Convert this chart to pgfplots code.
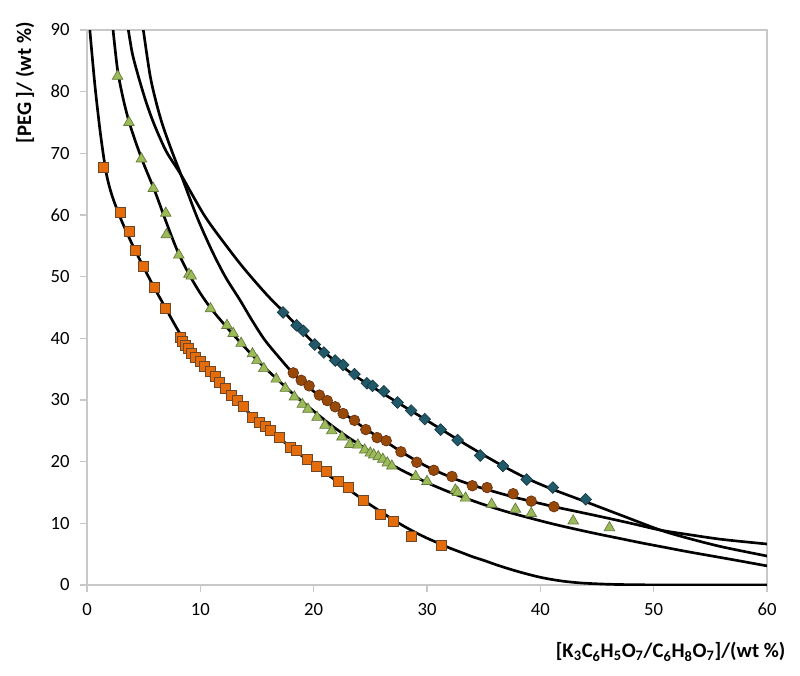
\documentclass[border=0pt]{standalone}
\usepackage{fontspec}
\setmainfont{Carlito}
\usepackage{pgfplots}
\pgfplotsset{compat=1.18}

\definecolor{axisgrey}{RGB}{200,200,200}
\definecolor{sqfill}{RGB}{228,108,10}
\definecolor{sqdraw}{RGB}{110,70,40}
\definecolor{trfill}{RGB}{155,187,89}
\definecolor{trdraw}{RGB}{100,120,60}
\definecolor{cifill}{RGB}{152,72,7}
\definecolor{cidraw}{RGB}{100,50,20}
\definecolor{dmfill}{RGB}{33,89,104}
\definecolor{dmdraw}{RGB}{20,55,70}

\begin{document}
\begin{tikzpicture}
\begin{axis}[
    at={(0,0)}, anchor=south west,
    width=510pt, height=416.25pt, scale only axis,
    xmin=0, xmax=60, ymin=0, ymax=90,
    xtick={0,10,...,60}, ytick={0,10,...,90},
    axis line style={draw=axisgrey, line width=0.8pt},
    tick style={draw=axisgrey, line width=0.8pt},
    tick align=outside, major tick length=5pt,
    xtick pos=bottom, ytick pos=left,
    ticklabel style={font=\fontsize{14}{16}\selectfont},
    yticklabel style={xshift=-4.5pt},
    xticklabel style={yshift=-5pt},
    /pgf/number format/assume math mode=true,
    xlabel={\bfseries [K\textsubscript{3}C\textsubscript{6}H\textsubscript{5}O\textsubscript{7}/C\textsubscript{6}H\textsubscript{8}O\textsubscript{7}]/(wt \%)},
    ylabel={\bfseries [PEG ]/ (wt \%)},
    x label style={at={(axis description cs:1.034,-0.1207)}, anchor=east, font=\fontsize{15.5}{18}\selectfont},
    y label style={at={(axis description cs:-0.0912,1.022)}, anchor=east, rotate=0, font=\fontsize{15.5}{18}\selectfont},
    clip=true,
]
% fitted curves
\addplot[black, line width=2pt, smooth, tension=0.5] coordinates {
(0.25,90)(0.7,81)(1.2,73)(1.7,66.8)(2.2,63.2)(3,59.3)(4,55.2)(5,51.5)(6,48)(7,44.7)(8,41.4)(9,38.5)(10,35.9)(11,33.7)(12,31.7)(13,30.0)(14,28.4)(15,26.8)(16,25.3)(17,23.8)(18,22.3)(19,20.9)(20,19.5)(21,18.2)(22,16.9)(23,15.6)(24,14.3)(25,13.0)(26,11.8)(27,10.6)(28,9.5)(29,8.5)(30,7.6)(31,6.8)(32,6.0)(33,5.3)(34,4.6)(35,4.0)(36,3.35)(37,2.75)(38,2.2)(39,1.7)(40,1.25)(41,0.9)(42,0.62)(43,0.42)(44,0.28)(46,0.12)(48,0.05)(50,0.02)(55,0)(60,0)
};
\addplot[black, line width=2pt, smooth, tension=0.5] coordinates {
(2.3,90)(2.7,83.5)(3.2,78.8)(3.7,75.2)(4.3,71.8)(5,68.3)(6,63.8)(7,58.8)(8,54.1)(9,50.4)(10,47.3)(11,44.7)(12,42.5)(13,40.4)(14,38.4)(15,36.5)(16,34.7)(17,33.0)(18,31.3)(19,29.7)(20,28.2)(21,26.7)(22,25.3)(23,24.0)(24,22.8)(25,21.6)(26,20.5)(27,19.4)(28,18.4)(29,17.5)(30,16.6)(31,15.8)(32,15.05)(33,14.35)(35,13.05)(37,11.9)(39,10.9)(41,9.95)(43,9.1)(45,8.3)(47,7.55)(49,6.8)(51,6.1)(53,5.4)(55,4.75)(57,4.1)(60,3.1)
};
\addplot[black, line width=2pt, smooth, tension=0.5] coordinates {
(4.97,90)(5.56,82.7)(6.1,78.3)(6.67,74.6)(7.5,70.3)(8.3,66.5)(9.7,59.7)(11.0,54.3)(12.2,50.0)(13.5,46.2)(14.6,42.8)(15.7,39.7)(17,36.8)(18.2,34.3)(19.6,32.0)(21.2,29.7)(22.6,27.9)(24.6,25.3)(26.4,23.2)(28,21.3)(30,19.2)(32.2,17.4)(34,16.2)(36,15.1)(38,14.1)(41.2,12.7)(43,12.0)(45.3,11.1)(48,10.0)(50.6,8.9)(53,8.2)(56,7.4)(60,6.65)
};
\addplot[black, line width=2pt, smooth, tension=0.5] coordinates {
(3.65,90)(4.0,86.2)(4.5,82.7)(5.2,78.4)(5.95,74.6)(7,70.3)(8.3,66.5)(10.4,59.8)(12.5,54.5)(14,51.0)(15.9,47.0)(17.3,44.4)(18.5,42.1)(20.1,39.1)(21.9,36.3)(23.6,34.0)(25.2,32.1)(27.4,29.6)(29.8,26.9)(32.7,23.6)(34.7,21.4)(36.7,19.3)(38.8,17.3)(41.1,15.5)(44.0,13.5)(47,11.4)(50.6,8.9)(53,7.6)(56,6.2)(60,4.7)
};
% experimental points
\addplot[only marks, mark=square*, mark size=3.75pt, mark options={fill=sqfill, draw=sqdraw, line width=0.5pt}] coordinates {
(1.4,67.8)(2.9,60.5)(3.7,57.4)(4.3,54.2)(5.0,51.6)(5.9,48.3)(6.9,44.8)(8.2,40.2)(8.4,39.5)(8.65,38.9)(8.9,38.3)(9.2,37.6)(9.6,36.9)(10.0,36.2)(10.35,35.5)(10.85,34.6)(11.3,33.8)(11.7,32.8)(12.2,31.9)(12.7,30.8)(13.3,29.9)(13.8,28.9)(14.6,27.2)(15.2,26.4)(15.7,25.8)(16.2,25.1)(17.0,23.9)(17.9,22.4)(18.5,21.8)(19.4,20.4)(20.2,19.3)(21.1,18.5)(22.2,16.8)(23.1,15.8)(24.4,13.8)(25.9,11.4)(27.0,10.4)(28.6,7.9)(31.3,6.5)
};
\addplot[only marks, mark=triangle*, mark size=4.6pt, mark options={fill=trfill, draw=trdraw, line width=0.5pt}] coordinates {
(2.7,82.5)(3.7,75.0)(4.8,69.1)(5.85,64.3)(6.95,60.3)(7.0,56.8)(8.1,53.5)(9.0,50.4)(9.2,50.1)(10.9,44.8)(12.35,42.1)(12.9,40.8)(13.6,39.2)(14.6,37.5)(15.0,36.4)(15.6,35.1)(16.7,33.4)(17.5,31.9)(18.3,30.5)(19.0,29.3)(19.5,28.5)(20.3,27.2)(21.0,25.9)(21.6,25.0)(22.5,24.0)(23.2,22.8)(23.9,22.7)(24.5,21.9)(25.0,21.4)(25.3,21.1)(25.7,20.8)(26.1,20.4)(26.5,19.8)(26.9,19.3)(29.0,17.6)(30.0,16.8)(32.5,15.4)(32.7,15.0)(33.4,14.1)(35.7,13.1)(37.8,12.3)(39.2,11.6)(42.9,10.4)(46.1,9.3)
};
\addplot[only marks, mark=*, mark size=4pt, mark options={fill=cifill, draw=cidraw, line width=0.5pt}] coordinates {
(18.2,34.4)(18.9,33.2)(19.6,32.3)(20.5,30.8)(21.2,29.9)(21.9,28.9)(22.6,27.8)(23.6,26.7)(24.6,25.2)(25.6,23.9)(26.4,23.4)(27.7,21.6)(29.1,19.9)(30.6,18.6)(32.2,17.6)(34.0,16.1)(35.3,15.8)(37.6,14.8)(39.2,13.6)(41.2,12.7)
};
\addplot[only marks, mark=square*, mark size=3.1pt, mark options={rotate=45, fill=dmfill, draw=dmdraw, line width=0.5pt}] coordinates {
(17.3,44.2)(18.5,42.1)(19.1,41.2)(20.1,39.0)(20.9,37.7)(21.9,36.4)(22.6,35.7)(23.6,34.2)(24.7,32.7)(25.2,32.3)(26.2,31.4)(27.4,29.6)(28.6,28.3)(29.8,26.9)(31.2,25.2)(32.7,23.5)(34.7,21.0)(36.7,19.3)(38.8,17.1)(41.1,15.8)(44.0,13.9)
};
\end{axis}
\pgfresetboundingbox
\path[use as bounding box] (-65.25pt,-67.5pt) rectangle (534.75pt,438.75pt);
\end{tikzpicture}
\end{document}
